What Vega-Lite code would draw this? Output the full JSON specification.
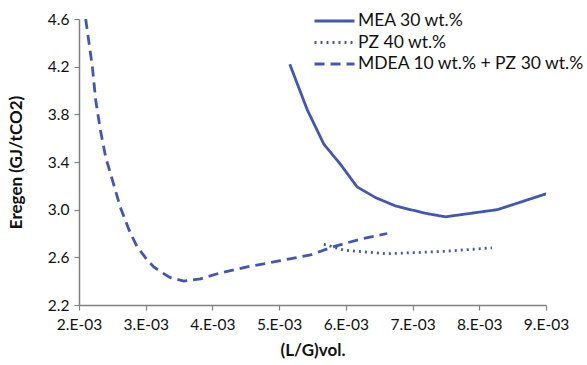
{
  "$schema": "https://vega.github.io/schema/vega-lite/v6.json",
  "width": 467,
  "height": 286,
  "autosize": {"type": "none"},
  "padding": {"left": 79, "top": 19, "right": 41, "bottom": 60},
  "background": "white",
  "config": {
    "view": {"stroke": null},
    "font": "Lato",
    "axis": {"grid": false, "domainColor": "#808080", "tickColor": "#808080", "domainWidth": 1.5, "tickWidth": 1.2, "tickSize": 5, "labelFont": "Lato", "labelFontSize": 15.5, "labelColor": "#111", "titleFont": "Lato", "titleFontSize": 17, "titleFontWeight": "bold", "titleColor": "#111", "labelOverlap": false, "labelFlush": false}
  },
  "data": {"values": [
    {"s": "MEA 30 wt.%", "x": 0.00516, "y": 4.22},
    {"s": "MEA 30 wt.%", "x": 0.00542, "y": 3.84},
    {"s": "MEA 30 wt.%", "x": 0.00567, "y": 3.55},
    {"s": "MEA 30 wt.%", "x": 0.00592, "y": 3.38},
    {"s": "MEA 30 wt.%", "x": 0.00617, "y": 3.19},
    {"s": "MEA 30 wt.%", "x": 0.00645, "y": 3.10},
    {"s": "MEA 30 wt.%", "x": 0.00675, "y": 3.03},
    {"s": "MEA 30 wt.%", "x": 0.00719, "y": 2.97},
    {"s": "MEA 30 wt.%", "x": 0.00749, "y": 2.94},
    {"s": "MEA 30 wt.%", "x": 0.00827, "y": 3.00},
    {"s": "MEA 30 wt.%", "x": 0.00904, "y": 3.14},
    {"s": "PZ 40 wt.%", "x": 0.00567, "y": 2.71},
    {"s": "PZ 40 wt.%", "x": 0.00597, "y": 2.66},
    {"s": "PZ 40 wt.%", "x": 0.00662, "y": 2.63},
    {"s": "PZ 40 wt.%", "x": 0.00747, "y": 2.65},
    {"s": "PZ 40 wt.%", "x": 0.00819, "y": 2.68},
    {"s": "MDEA 10 wt.% + PZ 30 wt.%", "x": 0.00210, "y": 4.60},
    {"s": "MDEA 10 wt.% + PZ 30 wt.%", "x": 0.00215, "y": 4.40},
    {"s": "MDEA 10 wt.% + PZ 30 wt.%", "x": 0.00220, "y": 4.20},
    {"s": "MDEA 10 wt.% + PZ 30 wt.%", "x": 0.00225, "y": 3.92},
    {"s": "MDEA 10 wt.% + PZ 30 wt.%", "x": 0.00232, "y": 3.67},
    {"s": "MDEA 10 wt.% + PZ 30 wt.%", "x": 0.00240, "y": 3.44},
    {"s": "MDEA 10 wt.% + PZ 30 wt.%", "x": 0.00250, "y": 3.25},
    {"s": "MDEA 10 wt.% + PZ 30 wt.%", "x": 0.00262, "y": 3.02},
    {"s": "MDEA 10 wt.% + PZ 30 wt.%", "x": 0.00275, "y": 2.83},
    {"s": "MDEA 10 wt.% + PZ 30 wt.%", "x": 0.00287, "y": 2.69},
    {"s": "MDEA 10 wt.% + PZ 30 wt.%", "x": 0.00302, "y": 2.58},
    {"s": "MDEA 10 wt.% + PZ 30 wt.%", "x": 0.00312, "y": 2.52},
    {"s": "MDEA 10 wt.% + PZ 30 wt.%", "x": 0.00325, "y": 2.47},
    {"s": "MDEA 10 wt.% + PZ 30 wt.%", "x": 0.00337, "y": 2.43},
    {"s": "MDEA 10 wt.% + PZ 30 wt.%", "x": 0.00357, "y": 2.40},
    {"s": "MDEA 10 wt.% + PZ 30 wt.%", "x": 0.00382, "y": 2.42},
    {"s": "MDEA 10 wt.% + PZ 30 wt.%", "x": 0.00412, "y": 2.47},
    {"s": "MDEA 10 wt.% + PZ 30 wt.%", "x": 0.00452, "y": 2.52},
    {"s": "MDEA 10 wt.% + PZ 30 wt.%", "x": 0.00500, "y": 2.57},
    {"s": "MDEA 10 wt.% + PZ 30 wt.%", "x": 0.00547, "y": 2.62},
    {"s": "MDEA 10 wt.% + PZ 30 wt.%", "x": 0.00582, "y": 2.69},
    {"s": "MDEA 10 wt.% + PZ 30 wt.%", "x": 0.00620, "y": 2.75},
    {"s": "MDEA 10 wt.% + PZ 30 wt.%", "x": 0.00662, "y": 2.80}
  ]},
  "mark": {"type": "line", "color": "#4456b3", "strokeWidth": 2.8, "clip": true},
  "encoding": {
    "x": {"field": "x", "type": "quantitative", "scale": {"domain": [0.002, 0.009], "nice": false, "zero": false},
      "axis": {"values": [0.002, 0.003, 0.004, 0.005, 0.006, 0.007, 0.008, 0.009], "labelExpr": "round(datum.value*1000) + '.E-03'", "title": "(L/G)vol.", "titlePadding": 10, "labelPadding": 7}},
    "y": {"field": "y", "type": "quantitative", "scale": {"domain": [2.2, 4.6], "nice": false, "zero": false},
      "axis": {"values": [2.2, 2.6, 3.0, 3.4, 3.8, 4.2, 4.6], "format": ".1f", "title": "Eregen (GJ/tCO2)", "titlePadding": 22, "labelPadding": 5}},
    "strokeDash": {"field": "s", "type": "nominal",
      "scale": {"domain": ["MEA 30 wt.%", "PZ 40 wt.%", "MDEA 10 wt.% + PZ 30 wt.%"], "range": [[1, 0], [2, 4], [10, 6]]},
      "legend": {"title": null, "orient": "none", "legendX": 234, "legendY": -8, "symbolType": "stroke", "symbolSize": 1600, "symbolStrokeWidth": 3, "symbolStrokeColor": "#4456b3", "labelFont": "Lato", "labelFontSize": 17.5, "labelColor": "#111", "labelLimit": 0, "clipHeight": 20, "rowPadding": 1.5, "symbolOffset": 0, "labelOffset": 2}}
  }
}
